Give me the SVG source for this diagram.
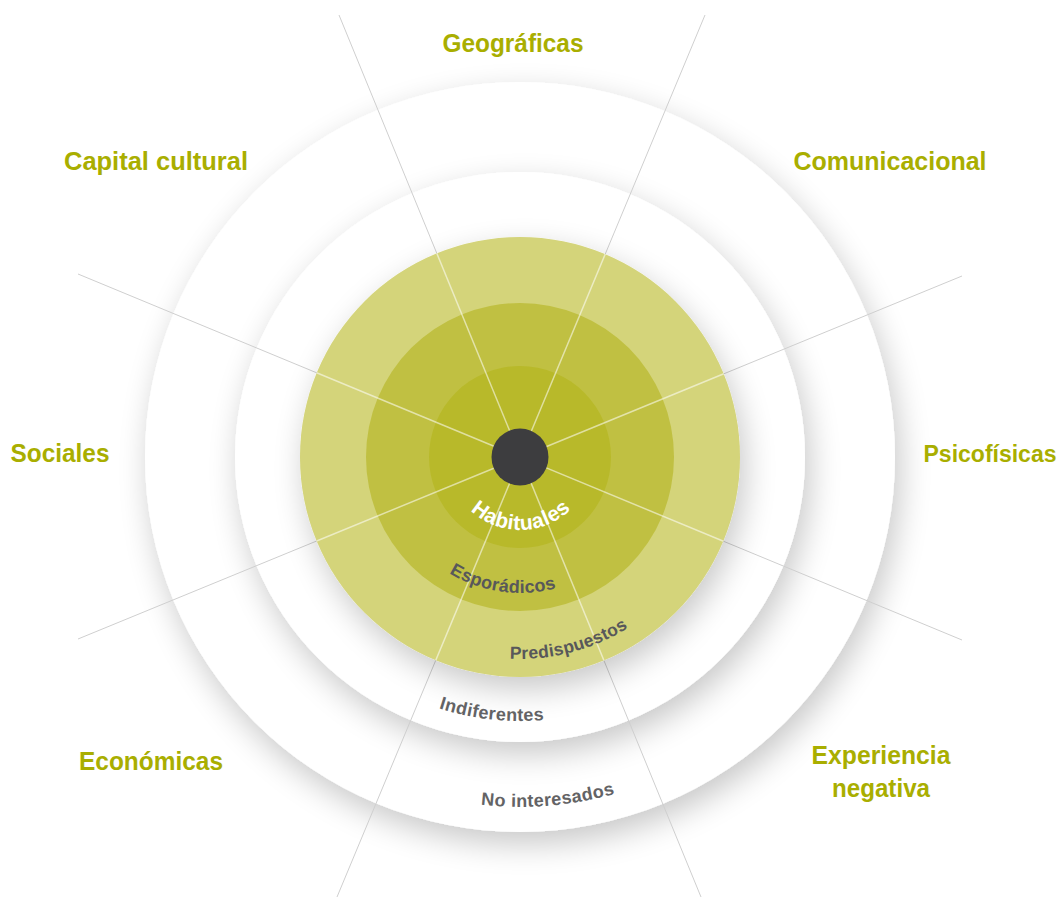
<svg xmlns="http://www.w3.org/2000/svg" xmlns:xlink="http://www.w3.org/1999/xlink" width="1063" height="898" viewBox="0 0 1063 898">
<style>
.cat{font-family:"Liberation Sans",Arial,sans-serif;font-weight:bold;font-size:25px;fill:#a9ae00;text-anchor:middle}
.ring{font-family:"Liberation Sans",Arial,sans-serif;font-weight:bold;fill:#58585a;text-anchor:middle}
.ray{stroke:#cfcfcf;stroke-width:1;fill:none}
.rayg{stroke:#ffffff;stroke-opacity:0.55;stroke-width:1.5;fill:none}
</style>
<defs>
<filter id="sh" x="-30%" y="-30%" width="160%" height="160%">
<feGaussianBlur in="SourceAlpha" stdDeviation="16"/>
<feOffset dx="5" dy="12"/>
<feComponentTransfer><feFuncA type="linear" slope="0.22"/></feComponentTransfer>
<feMerge><feMergeNode/><feMergeNode in="SourceGraphic"/></feMerge>
</filter>
<clipPath id="gclip"><circle cx="520" cy="457" r="220"/></clipPath>
<path id="a73" d="M447,457 A73,73 0 0 0 593,457"/>
<path id="a136" d="M384,457 A136,136 0 0 0 656,457"/>
<path id="a202" d="M318,457 A202,202 0 0 0 722,457"/>
<path id="a264" d="M256,457 A264,264 0 0 0 784,457"/>
<path id="a350" d="M170,457 A350,350 0 0 0 870,457"/>
</defs>
<rect width="1063" height="898" fill="#ffffff"/>
<g id="disc-no-interesados"><circle cx="520" cy="457" r="375" fill="#ffffff" filter="url(#sh)"/></g>
<g id="disc-indiferentes"><circle cx="520" cy="457" r="285" fill="#ffffff" filter="url(#sh)"/></g>
<g id="connectors">
<line class="ray" x1="339" y1="15" x2="701" y2="897"/>
<line class="ray" x1="705" y1="15" x2="337" y2="897"/>
<line class="ray" x1="78" y1="274" x2="962" y2="640"/>
<line class="ray" x1="78" y1="639" x2="962" y2="276"/>
</g>
<g id="disc-predispuestos"><circle cx="520" cy="457" r="220" fill="#d4d47a" filter="url(#sh)"/></g>
<g id="disc-esporadicos"><circle cx="520" cy="457" r="154" fill="#c0c042"/></g>
<g id="disc-habituales"><circle cx="520" cy="457" r="91" fill="#b8b92a"/></g>
<g id="connectors-inner" clip-path="url(#gclip)">
<line class="rayg" x1="339" y1="15" x2="701" y2="897"/>
<line class="rayg" x1="705" y1="15" x2="337" y2="897"/>
<line class="rayg" x1="78" y1="274" x2="962" y2="640"/>
<line class="rayg" x1="78" y1="639" x2="962" y2="276"/>
</g>
<g id="center"><circle cx="520" cy="457" r="28.5" fill="#3d3d3f"/></g>
<g id="ring-labels">
<text class="ring" style="font-size:21px;fill:#ffffff;letter-spacing:0.5px"><textPath xlink:href="#a73" href="#a73" startOffset="50.5%">Habituales</textPath></text>
<text class="ring" style="font-size:18px;letter-spacing:0.3px"><textPath xlink:href="#a136" href="#a136" startOffset="45.6%">Esporádicos</textPath></text>
<text class="ring" style="font-size:17.5px;letter-spacing:0.3px"><textPath xlink:href="#a202" href="#a202" startOffset="58.2%">Predispuestos</textPath></text>
<text class="ring" style="font-size:18px;fill:#636365;letter-spacing:0.4px"><textPath xlink:href="#a264" href="#a264" startOffset="46.5%">Indiferentes</textPath></text>
<text class="ring" style="font-size:18px;fill:#636365;letter-spacing:0.4px"><textPath xlink:href="#a350" href="#a350" startOffset="52.6%">No interesados</textPath></text>
</g>
<g id="label-geograficas"><text class="cat" x="513" y="52" textLength="141" lengthAdjust="spacingAndGlyphs">Geográficas</text></g>
<g id="label-capital"><text class="cat" x="156" y="170" textLength="184" lengthAdjust="spacingAndGlyphs">Capital cultural</text></g>
<g id="label-comunicacional"><text class="cat" x="890" y="170" textLength="193" lengthAdjust="spacingAndGlyphs">Comunicacional</text></g>
<g id="label-sociales"><text class="cat" x="60" y="462" textLength="99" lengthAdjust="spacingAndGlyphs">Sociales</text></g>
<g id="label-psicofisicas"><text class="cat" x="990" y="462" style="font-size:23px">Psicofísicas</text></g>
<g id="label-economicas"><text class="cat" x="151" y="770" textLength="144" lengthAdjust="spacingAndGlyphs">Económicas</text></g>
<g id="label-experiencia"><text class="cat" x="881" y="764" textLength="139" lengthAdjust="spacingAndGlyphs">Experiencia</text><text class="cat" x="881" y="797" textLength="98" lengthAdjust="spacingAndGlyphs">negativa</text></g>
</svg>
